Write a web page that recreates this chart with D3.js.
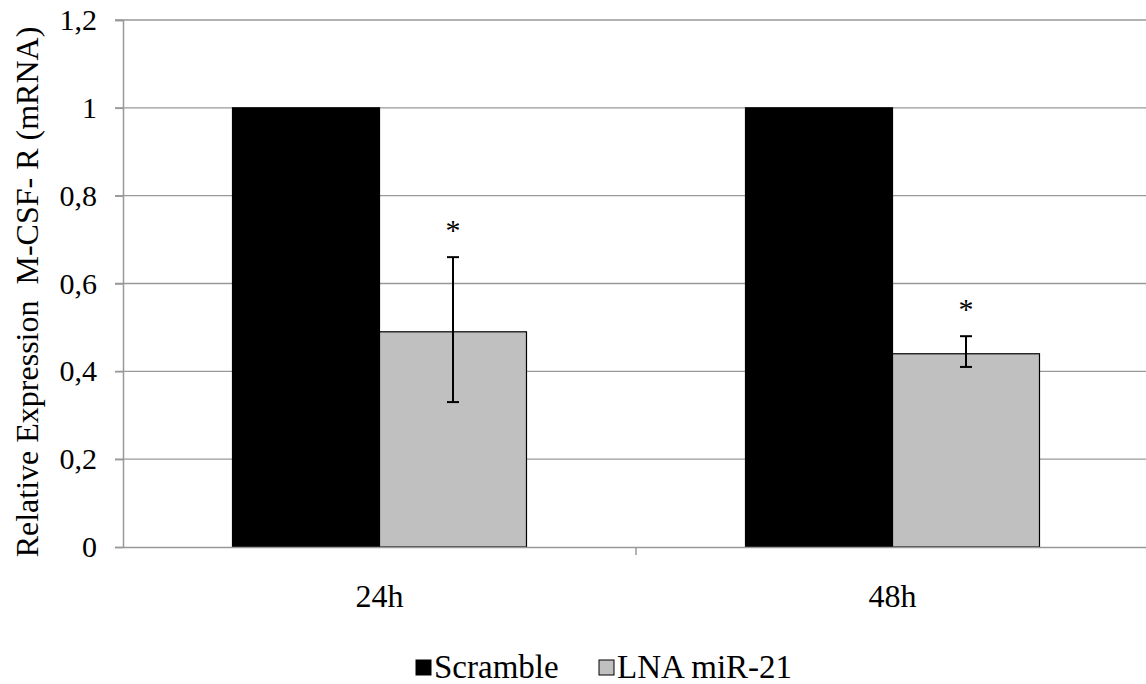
<!DOCTYPE html>
<html>
<head>
<meta charset="utf-8">
<script src="https://cdn.jsdelivr.net/npm/d3@7"></script>
</head>
<body style="margin:0">
<script>
// data
const categories = ["24h", "48h"];
const series = ["Scramble", "LNA miR-21"];
const scrambleVals = [1, 1];
const lnaVals = [0.49, 0.44];
const lnaErrLow = [0.33, 0.41];
const lnaErrHigh = [0.66, 0.48];
const yTicks = [0, 0.2, 0.4, 0.6, 0.8, 1, 1.2];
const colors = ["#000000", "#c0c0c0"];

const FONT = "Liberation Serif";
const W = 1146, H = 684;
const svg = d3.select("body").append("svg").attr("width", W).attr("height", H);

const x = d3.scaleBand().domain(categories).range([123, 1149]).padding(0);
const xs = d3.scaleBand().domain(series).range([0, x.bandwidth()]).paddingInner(0).paddingOuter(0.745);
const y = d3.scaleLinear().domain([0, 1.2]).range([547, 20]);
const fmt = v => String(v).replace(".", ",");

// gridlines
svg.append("g").selectAll("line").data(yTicks.filter(t => t > 0)).enter().append("line")
  .attr("x1", 115).attr("x2", W).attr("y1", d => y(d)).attr("y2", d => y(d))
  .attr("stroke", "#999").attr("stroke-width", 1.3);

// y axis
const yAxis = svg.append("g").attr("transform", "translate(123,0)")
  .call(d3.axisLeft(y).tickValues(yTicks).tickFormat(fmt).tickSize(8).tickPadding(18));
yAxis.select(".domain").attr("stroke", "#999").attr("stroke-width", 1.5);
yAxis.selectAll(".tick line").attr("stroke", "#999").attr("stroke-width", 1.5);
yAxis.selectAll("text").attr("fill", "#000").attr("font-size", 30);

// bars
const rows = categories.map((c, i) => ({ cat: c, vals: [scrambleVals[i], lnaVals[i]], lo: lnaErrLow[i], hi: lnaErrHigh[i] }));
const g = svg.append("g").selectAll("g").data(rows).enter().append("g")
  .attr("transform", d => `translate(${x(d.cat)},0)`);
g.selectAll("rect").data(d => d.vals.map((v, j) => ({ s: series[j], v, j }))).enter().append("rect")
  .attr("x", d => xs(d.s)).attr("width", xs.bandwidth())
  .attr("y", d => y(d.v)).attr("height", d => y(0) - y(d.v))
  .attr("fill", d => colors[d.j]).attr("stroke", "#000").attr("stroke-width", 1.2);

// error bars + asterisks on LNA series
const cx = xs(series[1]) + xs.bandwidth() / 2;
g.append("line").attr("x1", cx).attr("x2", cx).attr("y1", d => y(d.hi)).attr("y2", d => y(d.lo))
  .attr("stroke", "#000").attr("stroke-width", 2);
[d => d.hi, d => d.lo].forEach(f => {
  g.append("line").attr("x1", cx - 6).attr("x2", cx + 6).attr("y1", d => y(f(d))).attr("y2", d => y(f(d)))
    .attr("stroke", "#000").attr("stroke-width", 2);
});
g.append("text").attr("x", cx).attr("y", d => y(d.hi) - 17).attr("text-anchor", "middle")
  .attr("font-size", 30).text("*");

// x axis
const xAxis = svg.append("g").attr("transform", "translate(0,547)")
  .call(d3.axisBottom(x).tickSize(0).tickPadding(37));
xAxis.select(".domain").attr("stroke", "#999").attr("stroke-width", 1.5);
xAxis.selectAll("text").attr("fill", "#000").attr("font-size", 32);
xAxis.selectAll(".sep").data(categories.slice(1)).enter().append("line")
  .attr("x1", d => x(d)).attr("x2", d => x(d)).attr("y1", 0).attr("y2", 8)
  .attr("stroke", "#999").attr("stroke-width", 1.5);

// y axis title
svg.append("text").attr("transform", "translate(38,292) rotate(-90)").attr("text-anchor", "middle")
  .attr("font-size", 32).attr("xml:space", "preserve")
  .text("Relative Expression  M-CSF- R (mRNA)");

// legend
const legend = svg.append("g").attr("transform", "translate(416,667)");
const items = [{ s: series[0], x: 0, c: colors[0] }, { s: series[1], x: 183, c: colors[1] }];
const li = legend.selectAll("g").data(items).enter().append("g").attr("transform", d => `translate(${d.x},0)`);
li.append("rect").attr("x", 0).attr("y", -7).attr("width", 15).attr("height", 15)
  .attr("fill", d => d.c).attr("stroke", "#000").attr("stroke-width", 1);
li.append("text").attr("x", 18).attr("y", 11).attr("font-size", 33).text(d => d.s);

// serif everywhere
svg.selectAll("text").attr("font-family", FONT).style("font-family", FONT, "important");
</script>
</body>
</html>
